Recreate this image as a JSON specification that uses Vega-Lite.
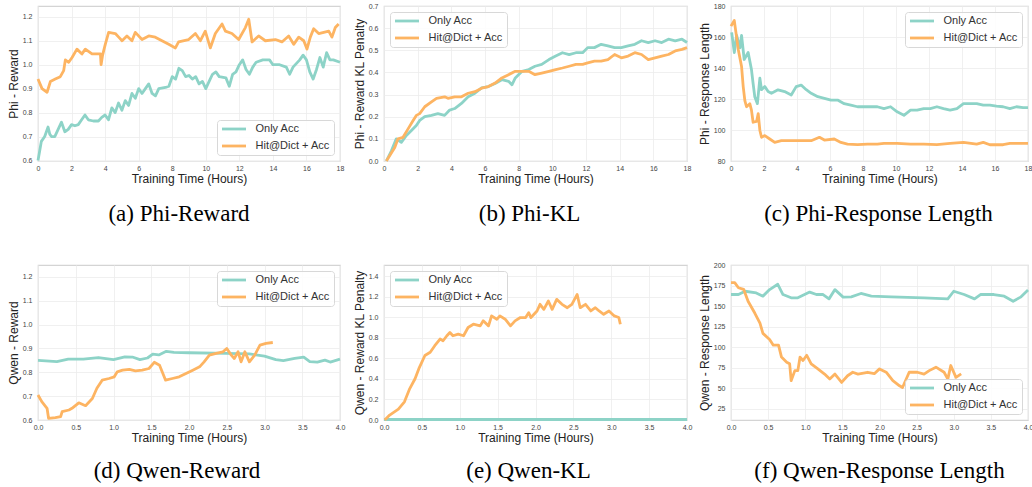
{
"$schema": "https://vega.github.io/schema/vega-lite/v6.json",
"background": "white",
"padding": {"left": 6, "top": 1, "right": 0, "bottom": 2},
"bounds": "flush",
"columns": 3,
"spacing": {"row": 104, "column": 44},
"resolve": {"scale": {"color": "independent"}, "legend": {"color": "independent"}},
"config": {
 "font": "Liberation Sans",
 "view": {"stroke": "#d4d4d4", "strokeWidth": 1.2},
 "axis": {"grid": true, "gridColor": "#ececec", "gridWidth": 0.8, "domain": false, "ticks": false, "labelFontSize": 7, "labelColor": "#444444", "labelFlush": false, "labelOverlap": false, "titleFontSize": 12, "titleFontWeight": "normal", "titleColor": "#222222", "titlePadding": 2, "labelFont": "Liberation Sans", "titleFont": "Liberation Sans"},
 "axisX": {"labelPadding": 3.5},
 "axisY": {"labelPadding": 6},
 "legend": {"labelFontSize": 11, "labelColor": "#333333", "labelFont": "Liberation Sans", "symbolType": "M-1,0H5", "symbolSize": 64, "symbolStrokeWidth": 2.2, "fillColor": "rgba(255,255,255,0.85)", "strokeColor": "#d8d8d8", "cornerRadius": 3, "padding": 3.5, "offset": 6, "rowPadding": 5, "labelOffset": 24},
 "title": {"font": "Liberation Serif", "fontSize": 23, "fontWeight": "normal", "color": "#000000", "offset": 18},
 "line": {"strokeWidth": 2.8, "strokeJoin": "round"}
},
"datasets": {
 "phiReward": [
  {"hours":0,"series":"Only Acc","value":0.60},{"hours":0.1,"series":"Only Acc","value":0.64},{"hours":0.2,"series":"Only Acc","value":0.68},{"hours":0.4,"series":"Only Acc","value":0.70},{"hours":0.6,"series":"Only Acc","value":0.74},{"hours":0.7,"series":"Only Acc","value":0.71},{"hours":0.8,"series":"Only Acc","value":0.70},{"hours":1.0,"series":"Only Acc","value":0.70},{"hours":1.2,"series":"Only Acc","value":0.73},{"hours":1.4,"series":"Only Acc","value":0.76},{"hours":1.5,"series":"Only Acc","value":0.74},{"hours":1.6,"series":"Only Acc","value":0.72},{"hours":1.8,"series":"Only Acc","value":0.73},{"hours":2.0,"series":"Only Acc","value":0.75},{"hours":2.2,"series":"Only Acc","value":0.745},{"hours":2.4,"series":"Only Acc","value":0.75},{"hours":2.6,"series":"Only Acc","value":0.77},{"hours":2.8,"series":"Only Acc","value":0.79},{"hours":3.0,"series":"Only Acc","value":0.77},{"hours":3.3,"series":"Only Acc","value":0.765},{"hours":3.6,"series":"Only Acc","value":0.765},{"hours":3.8,"series":"Only Acc","value":0.78},{"hours":4.0,"series":"Only Acc","value":0.79},{"hours":4.2,"series":"Only Acc","value":0.77},{"hours":4.4,"series":"Only Acc","value":0.82},{"hours":4.6,"series":"Only Acc","value":0.80},{"hours":4.8,"series":"Only Acc","value":0.84},{"hours":5.0,"series":"Only Acc","value":0.81},{"hours":5.2,"series":"Only Acc","value":0.85},{"hours":5.4,"series":"Only Acc","value":0.83},{"hours":5.6,"series":"Only Acc","value":0.88},{"hours":5.8,"series":"Only Acc","value":0.86},{"hours":6.0,"series":"Only Acc","value":0.90},{"hours":6.2,"series":"Only Acc","value":0.88},{"hours":6.4,"series":"Only Acc","value":0.90},{"hours":6.6,"series":"Only Acc","value":0.92},{"hours":6.8,"series":"Only Acc","value":0.88},{"hours":7.0,"series":"Only Acc","value":0.87},{"hours":7.2,"series":"Only Acc","value":0.90},{"hours":7.6,"series":"Only Acc","value":0.905},{"hours":7.8,"series":"Only Acc","value":0.91},{"hours":8.0,"series":"Only Acc","value":0.95},{"hours":8.2,"series":"Only Acc","value":0.94},{"hours":8.4,"series":"Only Acc","value":0.985},{"hours":8.6,"series":"Only Acc","value":0.975},{"hours":8.8,"series":"Only Acc","value":0.95},{"hours":9.0,"series":"Only Acc","value":0.955},{"hours":9.2,"series":"Only Acc","value":0.94},{"hours":9.4,"series":"Only Acc","value":0.95},{"hours":9.6,"series":"Only Acc","value":0.92},{"hours":9.8,"series":"Only Acc","value":0.93},{"hours":10.0,"series":"Only Acc","value":0.90},{"hours":10.2,"series":"Only Acc","value":0.93},{"hours":10.4,"series":"Only Acc","value":0.96},{"hours":10.6,"series":"Only Acc","value":0.97},{"hours":10.8,"series":"Only Acc","value":0.95},{"hours":11.2,"series":"Only Acc","value":0.945},{"hours":11.4,"series":"Only Acc","value":0.91},{"hours":11.6,"series":"Only Acc","value":0.96},{"hours":11.8,"series":"Only Acc","value":0.97},{"hours":12.0,"series":"Only Acc","value":1.00},{"hours":12.2,"series":"Only Acc","value":1.02},{"hours":12.4,"series":"Only Acc","value":0.98},{"hours":12.6,"series":"Only Acc","value":0.96},{"hours":12.8,"series":"Only Acc","value":0.99},{"hours":13.0,"series":"Only Acc","value":1.01},{"hours":13.4,"series":"Only Acc","value":1.02},{"hours":13.8,"series":"Only Acc","value":1.02},{"hours":14.0,"series":"Only Acc","value":1.00},{"hours":14.4,"series":"Only Acc","value":1.00},{"hours":14.8,"series":"Only Acc","value":0.99},{"hours":15.0,"series":"Only Acc","value":0.96},{"hours":15.2,"series":"Only Acc","value":0.99},{"hours":15.6,"series":"Only Acc","value":1.02},{"hours":15.8,"series":"Only Acc","value":1.04},{"hours":16.0,"series":"Only Acc","value":1.02},{"hours":16.2,"series":"Only Acc","value":0.97},{"hours":16.4,"series":"Only Acc","value":0.94},{"hours":16.6,"series":"Only Acc","value":0.98},{"hours":16.8,"series":"Only Acc","value":1.03},{"hours":17.0,"series":"Only Acc","value":0.99},{"hours":17.2,"series":"Only Acc","value":1.05},{"hours":17.4,"series":"Only Acc","value":1.02},{"hours":17.6,"series":"Only Acc","value":1.02},{"hours":18.0,"series":"Only Acc","value":1.01},
  {"hours":0,"series":"Hit@Dict + Acc","value":0.94},{"hours":0.24,"series":"Hit@Dict + Acc","value":0.90},{"hours":0.54,"series":"Hit@Dict + Acc","value":0.885},{"hours":0.74,"series":"Hit@Dict + Acc","value":0.93},{"hours":1.03,"series":"Hit@Dict + Acc","value":0.94},{"hours":1.33,"series":"Hit@Dict + Acc","value":0.95},{"hours":1.53,"series":"Hit@Dict + Acc","value":0.975},{"hours":1.63,"series":"Hit@Dict + Acc","value":1.02},{"hours":1.83,"series":"Hit@Dict + Acc","value":1.01},{"hours":2.03,"series":"Hit@Dict + Acc","value":1.03},{"hours":2.32,"series":"Hit@Dict + Acc","value":1.065},{"hours":2.62,"series":"Hit@Dict + Acc","value":1.045},{"hours":2.82,"series":"Hit@Dict + Acc","value":1.065},{"hours":3.22,"series":"Hit@Dict + Acc","value":1.045},{"hours":3.72,"series":"Hit@Dict + Acc","value":1.045},{"hours":3.76,"series":"Hit@Dict + Acc","value":1.0},{"hours":3.85,"series":"Hit@Dict + Acc","value":1.04},{"hours":4.01,"series":"Hit@Dict + Acc","value":1.085},{"hours":4.21,"series":"Hit@Dict + Acc","value":1.135},{"hours":4.61,"series":"Hit@Dict + Acc","value":1.13},{"hours":4.81,"series":"Hit@Dict + Acc","value":1.115},{"hours":5.01,"series":"Hit@Dict + Acc","value":1.10},{"hours":5.30,"series":"Hit@Dict + Acc","value":1.12},{"hours":5.60,"series":"Hit@Dict + Acc","value":1.10},{"hours":5.80,"series":"Hit@Dict + Acc","value":1.135},{"hours":6.20,"series":"Hit@Dict + Acc","value":1.105},{"hours":6.60,"series":"Hit@Dict + Acc","value":1.12},{"hours":6.99,"series":"Hit@Dict + Acc","value":1.115},{"hours":7.39,"series":"Hit@Dict + Acc","value":1.10},{"hours":7.79,"series":"Hit@Dict + Acc","value":1.085},{"hours":8.19,"series":"Hit@Dict + Acc","value":1.07},{"hours":8.38,"series":"Hit@Dict + Acc","value":1.095},{"hours":8.98,"series":"Hit@Dict + Acc","value":1.105},{"hours":9.38,"series":"Hit@Dict + Acc","value":1.13},{"hours":9.68,"series":"Hit@Dict + Acc","value":1.10},{"hours":9.97,"series":"Hit@Dict + Acc","value":1.14},{"hours":10.27,"series":"Hit@Dict + Acc","value":1.07},{"hours":10.57,"series":"Hit@Dict + Acc","value":1.13},{"hours":10.97,"series":"Hit@Dict + Acc","value":1.17},{"hours":11.17,"series":"Hit@Dict + Acc","value":1.14},{"hours":11.56,"series":"Hit@Dict + Acc","value":1.13},{"hours":11.96,"series":"Hit@Dict + Acc","value":1.105},{"hours":12.36,"series":"Hit@Dict + Acc","value":1.155},{"hours":12.56,"series":"Hit@Dict + Acc","value":1.19},{"hours":12.76,"series":"Hit@Dict + Acc","value":1.095},{"hours":13.15,"series":"Hit@Dict + Acc","value":1.12},{"hours":13.55,"series":"Hit@Dict + Acc","value":1.10},{"hours":14.15,"series":"Hit@Dict + Acc","value":1.105},{"hours":14.54,"series":"Hit@Dict + Acc","value":1.095},{"hours":14.94,"series":"Hit@Dict + Acc","value":1.12},{"hours":15.24,"series":"Hit@Dict + Acc","value":1.085},{"hours":15.54,"series":"Hit@Dict + Acc","value":1.115},{"hours":15.84,"series":"Hit@Dict + Acc","value":1.10},{"hours":16.03,"series":"Hit@Dict + Acc","value":1.065},{"hours":16.23,"series":"Hit@Dict + Acc","value":1.115},{"hours":16.43,"series":"Hit@Dict + Acc","value":1.15},{"hours":16.73,"series":"Hit@Dict + Acc","value":1.13},{"hours":17.03,"series":"Hit@Dict + Acc","value":1.135},{"hours":17.33,"series":"Hit@Dict + Acc","value":1.14},{"hours":17.52,"series":"Hit@Dict + Acc","value":1.115},{"hours":17.72,"series":"Hit@Dict + Acc","value":1.155},{"hours":17.92,"series":"Hit@Dict + Acc","value":1.17}
 ],
 "phiKL": [
  {"hours":0.14,"series":"Only Acc","value":0},{"hours":0.44,"series":"Only Acc","value":0.046},{"hours":0.73,"series":"Only Acc","value":0.10},{"hours":1.03,"series":"Only Acc","value":0.084},{"hours":1.33,"series":"Only Acc","value":0.115},{"hours":1.63,"series":"Only Acc","value":0.138},{"hours":1.92,"series":"Only Acc","value":0.16},{"hours":2.12,"series":"Only Acc","value":0.183},{"hours":2.42,"series":"Only Acc","value":0.20},{"hours":2.82,"series":"Only Acc","value":0.206},{"hours":3.2,"series":"Only Acc","value":0.214},{"hours":3.6,"series":"Only Acc","value":0.206},{"hours":3.9,"series":"Only Acc","value":0.23},{"hours":4.2,"series":"Only Acc","value":0.237},{"hours":4.6,"series":"Only Acc","value":0.26},{"hours":5.0,"series":"Only Acc","value":0.29},{"hours":5.4,"series":"Only Acc","value":0.306},{"hours":5.8,"series":"Only Acc","value":0.33},{"hours":6.2,"series":"Only Acc","value":0.336},{"hours":6.6,"series":"Only Acc","value":0.35},{"hours":7.0,"series":"Only Acc","value":0.367},{"hours":7.4,"series":"Only Acc","value":0.36},{"hours":7.6,"series":"Only Acc","value":0.344},{"hours":7.8,"series":"Only Acc","value":0.375},{"hours":8.2,"series":"Only Acc","value":0.405},{"hours":8.6,"series":"Only Acc","value":0.413},{"hours":8.97,"series":"Only Acc","value":0.428},{"hours":9.37,"series":"Only Acc","value":0.436},{"hours":9.8,"series":"Only Acc","value":0.458},{"hours":10.2,"series":"Only Acc","value":0.474},{"hours":10.6,"series":"Only Acc","value":0.489},{"hours":11.0,"series":"Only Acc","value":0.48},{"hours":11.4,"series":"Only Acc","value":0.489},{"hours":11.8,"series":"Only Acc","value":0.489},{"hours":12.1,"series":"Only Acc","value":0.512},{"hours":12.5,"series":"Only Acc","value":0.512},{"hours":12.9,"series":"Only Acc","value":0.527},{"hours":13.3,"series":"Only Acc","value":0.52},{"hours":13.7,"series":"Only Acc","value":0.512},{"hours":14.1,"series":"Only Acc","value":0.512},{"hours":14.5,"series":"Only Acc","value":0.52},{"hours":14.9,"series":"Only Acc","value":0.527},{"hours":15.3,"series":"Only Acc","value":0.543},{"hours":15.7,"series":"Only Acc","value":0.535},{"hours":16.1,"series":"Only Acc","value":0.543},{"hours":16.5,"series":"Only Acc","value":0.535},{"hours":16.9,"series":"Only Acc","value":0.55},{"hours":17.3,"series":"Only Acc","value":0.543},{"hours":17.7,"series":"Only Acc","value":0.55},{"hours":18.0,"series":"Only Acc","value":0.535},
  {"hours":0.14,"series":"Hit@Dict + Acc","value":0},{"hours":0.64,"series":"Hit@Dict + Acc","value":0.061},{"hours":0.83,"series":"Hit@Dict + Acc","value":0.10},{"hours":1.13,"series":"Hit@Dict + Acc","value":0.107},{"hours":1.43,"series":"Hit@Dict + Acc","value":0.145},{"hours":1.73,"series":"Hit@Dict + Acc","value":0.183},{"hours":1.92,"series":"Hit@Dict + Acc","value":0.206},{"hours":2.12,"series":"Hit@Dict + Acc","value":0.214},{"hours":2.42,"series":"Hit@Dict + Acc","value":0.245},{"hours":2.82,"series":"Hit@Dict + Acc","value":0.267},{"hours":3.12,"series":"Hit@Dict + Acc","value":0.283},{"hours":3.6,"series":"Hit@Dict + Acc","value":0.29},{"hours":3.8,"series":"Hit@Dict + Acc","value":0.283},{"hours":4.2,"series":"Hit@Dict + Acc","value":0.29},{"hours":4.6,"series":"Hit@Dict + Acc","value":0.29},{"hours":5.0,"series":"Hit@Dict + Acc","value":0.306},{"hours":5.4,"series":"Hit@Dict + Acc","value":0.313},{"hours":5.8,"series":"Hit@Dict + Acc","value":0.329},{"hours":6.2,"series":"Hit@Dict + Acc","value":0.336},{"hours":6.6,"series":"Hit@Dict + Acc","value":0.352},{"hours":7.0,"series":"Hit@Dict + Acc","value":0.375},{"hours":7.4,"series":"Hit@Dict + Acc","value":0.39},{"hours":7.8,"series":"Hit@Dict + Acc","value":0.405},{"hours":8.2,"series":"Hit@Dict + Acc","value":0.405},{"hours":8.6,"series":"Hit@Dict + Acc","value":0.405},{"hours":8.97,"series":"Hit@Dict + Acc","value":0.39},{"hours":9.37,"series":"Hit@Dict + Acc","value":0.397},{"hours":9.8,"series":"Hit@Dict + Acc","value":0.405},{"hours":10.2,"series":"Hit@Dict + Acc","value":0.413},{"hours":10.6,"series":"Hit@Dict + Acc","value":0.42},{"hours":11.0,"series":"Hit@Dict + Acc","value":0.428},{"hours":11.4,"series":"Hit@Dict + Acc","value":0.436},{"hours":11.8,"series":"Hit@Dict + Acc","value":0.436},{"hours":12.1,"series":"Hit@Dict + Acc","value":0.443},{"hours":12.5,"series":"Hit@Dict + Acc","value":0.451},{"hours":12.9,"series":"Hit@Dict + Acc","value":0.451},{"hours":13.3,"series":"Hit@Dict + Acc","value":0.458},{"hours":13.7,"series":"Hit@Dict + Acc","value":0.481},{"hours":14.1,"series":"Hit@Dict + Acc","value":0.466},{"hours":14.5,"series":"Hit@Dict + Acc","value":0.474},{"hours":14.9,"series":"Hit@Dict + Acc","value":0.489},{"hours":15.3,"series":"Hit@Dict + Acc","value":0.481},{"hours":15.7,"series":"Hit@Dict + Acc","value":0.458},{"hours":16.1,"series":"Hit@Dict + Acc","value":0.466},{"hours":16.5,"series":"Hit@Dict + Acc","value":0.474},{"hours":16.9,"series":"Hit@Dict + Acc","value":0.481},{"hours":17.3,"series":"Hit@Dict + Acc","value":0.497},{"hours":17.7,"series":"Hit@Dict + Acc","value":0.504},{"hours":18.0,"series":"Hit@Dict + Acc","value":0.512}
 ],
 "phiLen": [
  {"hours":0.04,"series":"Only Acc","value":163},{"hours":0.2,"series":"Only Acc","value":150},{"hours":0.34,"series":"Only Acc","value":161},{"hours":0.54,"series":"Only Acc","value":153},{"hours":0.64,"series":"Only Acc","value":161},{"hours":0.8,"series":"Only Acc","value":145.5},{"hours":1.04,"series":"Only Acc","value":150},{"hours":1.24,"series":"Only Acc","value":139},{"hours":1.34,"series":"Only Acc","value":130},{"hours":1.44,"series":"Only Acc","value":121.5},{"hours":1.6,"series":"Only Acc","value":117},{"hours":1.75,"series":"Only Acc","value":133.5},{"hours":1.85,"series":"Only Acc","value":126},{"hours":2.05,"series":"Only Acc","value":128},{"hours":2.25,"series":"Only Acc","value":124.8},{"hours":2.45,"series":"Only Acc","value":123.7},{"hours":2.85,"series":"Only Acc","value":125.9},{"hours":3.25,"series":"Only Acc","value":124.8},{"hours":3.65,"series":"Only Acc","value":122.6},{"hours":3.95,"series":"Only Acc","value":128},{"hours":4.25,"series":"Only Acc","value":129},{"hours":4.56,"series":"Only Acc","value":126},{"hours":4.86,"series":"Only Acc","value":123.7},{"hours":5.26,"series":"Only Acc","value":121.5},{"hours":5.66,"series":"Only Acc","value":120.4},{"hours":6.06,"series":"Only Acc","value":119.3},{"hours":6.46,"series":"Only Acc","value":119.3},{"hours":6.86,"series":"Only Acc","value":117},{"hours":7.26,"series":"Only Acc","value":116},{"hours":7.67,"series":"Only Acc","value":115},{"hours":8.07,"series":"Only Acc","value":115},{"hours":8.47,"series":"Only Acc","value":115},{"hours":8.87,"series":"Only Acc","value":115},{"hours":9.27,"series":"Only Acc","value":113.8},{"hours":9.67,"series":"Only Acc","value":115},{"hours":10.07,"series":"Only Acc","value":111.7},{"hours":10.48,"series":"Only Acc","value":109.5},{"hours":10.88,"series":"Only Acc","value":112.8},{"hours":11.28,"series":"Only Acc","value":112.8},{"hours":11.68,"series":"Only Acc","value":113.8},{"hours":12.08,"series":"Only Acc","value":113.8},{"hours":12.48,"series":"Only Acc","value":115},{"hours":12.88,"series":"Only Acc","value":113.8},{"hours":13.28,"series":"Only Acc","value":112.8},{"hours":13.69,"series":"Only Acc","value":113.8},{"hours":14.09,"series":"Only Acc","value":117},{"hours":14.49,"series":"Only Acc","value":117},{"hours":14.89,"series":"Only Acc","value":117},{"hours":15.29,"series":"Only Acc","value":116},{"hours":15.69,"series":"Only Acc","value":116},{"hours":16.09,"series":"Only Acc","value":115.4},{"hours":16.49,"series":"Only Acc","value":115},{"hours":16.9,"series":"Only Acc","value":113.8},{"hours":17.3,"series":"Only Acc","value":115},{"hours":17.7,"series":"Only Acc","value":114.5},{"hours":18.0,"series":"Only Acc","value":114.5},
  {"hours":0,"series":"Hit@Dict + Acc","value":167},{"hours":0.2,"series":"Hit@Dict + Acc","value":170.6},{"hours":0.44,"series":"Hit@Dict + Acc","value":152},{"hours":0.64,"series":"Hit@Dict + Acc","value":141},{"hours":0.74,"series":"Hit@Dict + Acc","value":128},{"hours":0.84,"series":"Hit@Dict + Acc","value":119},{"hours":0.94,"series":"Hit@Dict + Acc","value":115},{"hours":1.14,"series":"Hit@Dict + Acc","value":117},{"hours":1.24,"series":"Hit@Dict + Acc","value":112.8},{"hours":1.34,"series":"Hit@Dict + Acc","value":105},{"hours":1.55,"series":"Hit@Dict + Acc","value":105.5},{"hours":1.65,"series":"Hit@Dict + Acc","value":110.6},{"hours":1.75,"series":"Hit@Dict + Acc","value":99.7},{"hours":1.85,"series":"Hit@Dict + Acc","value":95.3},{"hours":2.05,"series":"Hit@Dict + Acc","value":96.4},{"hours":2.35,"series":"Hit@Dict + Acc","value":94.2},{"hours":2.65,"series":"Hit@Dict + Acc","value":92},{"hours":3.05,"series":"Hit@Dict + Acc","value":93.1},{"hours":3.65,"series":"Hit@Dict + Acc","value":93.1},{"hours":4.25,"series":"Hit@Dict + Acc","value":93.1},{"hours":4.86,"series":"Hit@Dict + Acc","value":93.1},{"hours":5.36,"series":"Hit@Dict + Acc","value":95.3},{"hours":5.66,"series":"Hit@Dict + Acc","value":93.5},{"hours":6.26,"series":"Hit@Dict + Acc","value":94.2},{"hours":6.66,"series":"Hit@Dict + Acc","value":92},{"hours":7.06,"series":"Hit@Dict + Acc","value":90.9},{"hours":7.67,"series":"Hit@Dict + Acc","value":90.5},{"hours":8.27,"series":"Hit@Dict + Acc","value":90.9},{"hours":8.87,"series":"Hit@Dict + Acc","value":90.9},{"hours":9.27,"series":"Hit@Dict + Acc","value":91.4},{"hours":10.07,"series":"Hit@Dict + Acc","value":91.4},{"hours":10.88,"series":"Hit@Dict + Acc","value":90.9},{"hours":11.68,"series":"Hit@Dict + Acc","value":90.9},{"hours":12.48,"series":"Hit@Dict + Acc","value":90.5},{"hours":13.28,"series":"Hit@Dict + Acc","value":91.4},{"hours":14.09,"series":"Hit@Dict + Acc","value":92},{"hours":14.89,"series":"Hit@Dict + Acc","value":90.9},{"hours":15.29,"series":"Hit@Dict + Acc","value":92},{"hours":15.69,"series":"Hit@Dict + Acc","value":90.5},{"hours":16.49,"series":"Hit@Dict + Acc","value":90.5},{"hours":16.9,"series":"Hit@Dict + Acc","value":91.4},{"hours":17.7,"series":"Hit@Dict + Acc","value":91.4},{"hours":18.0,"series":"Hit@Dict + Acc","value":91.4}
 ],
 "qwenReward": [
  {"hours":0,"series":"Only Acc","value":0.85},{"hours":0.25,"series":"Only Acc","value":0.845},{"hours":0.4,"series":"Only Acc","value":0.855},{"hours":0.6,"series":"Only Acc","value":0.855},{"hours":0.8,"series":"Only Acc","value":0.862},{"hours":1.0,"series":"Only Acc","value":0.853},{"hours":1.15,"series":"Only Acc","value":0.865},{"hours":1.25,"series":"Only Acc","value":0.864},{"hours":1.35,"series":"Only Acc","value":0.853},{"hours":1.45,"series":"Only Acc","value":0.86},{"hours":1.52,"series":"Only Acc","value":0.876},{"hours":1.6,"series":"Only Acc","value":0.873},{"hours":1.7,"series":"Only Acc","value":0.888},{"hours":1.8,"series":"Only Acc","value":0.884},{"hours":2.0,"series":"Only Acc","value":0.882},{"hours":2.5,"series":"Only Acc","value":0.879},{"hours":2.8,"series":"Only Acc","value":0.877},{"hours":3.0,"series":"Only Acc","value":0.868},{"hours":3.15,"series":"Only Acc","value":0.853},{"hours":3.25,"series":"Only Acc","value":0.849},{"hours":3.4,"series":"Only Acc","value":0.858},{"hours":3.52,"series":"Only Acc","value":0.864},{"hours":3.6,"series":"Only Acc","value":0.845},{"hours":3.7,"series":"Only Acc","value":0.843},{"hours":3.8,"series":"Only Acc","value":0.851},{"hours":3.87,"series":"Only Acc","value":0.843},{"hours":4.0,"series":"Only Acc","value":0.855},
  {"hours":0,"series":"Hit@Dict + Acc","value":0.705},{"hours":0.05,"series":"Hit@Dict + Acc","value":0.677},{"hours":0.12,"series":"Hit@Dict + Acc","value":0.649},{"hours":0.14,"series":"Hit@Dict + Acc","value":0.607},{"hours":0.23,"series":"Hit@Dict + Acc","value":0.61},{"hours":0.3,"series":"Hit@Dict + Acc","value":0.614},{"hours":0.32,"series":"Hit@Dict + Acc","value":0.635},{"hours":0.41,"series":"Hit@Dict + Acc","value":0.642},{"hours":0.45,"series":"Hit@Dict + Acc","value":0.649},{"hours":0.54,"series":"Hit@Dict + Acc","value":0.672},{"hours":0.63,"series":"Hit@Dict + Acc","value":0.66},{"hours":0.72,"series":"Hit@Dict + Acc","value":0.69},{"hours":0.78,"series":"Hit@Dict + Acc","value":0.733},{"hours":0.85,"series":"Hit@Dict + Acc","value":0.767},{"hours":0.94,"series":"Hit@Dict + Acc","value":0.774},{"hours":1.01,"series":"Hit@Dict + Acc","value":0.781},{"hours":1.05,"series":"Hit@Dict + Acc","value":0.802},{"hours":1.12,"series":"Hit@Dict + Acc","value":0.809},{"hours":1.21,"series":"Hit@Dict + Acc","value":0.812},{"hours":1.29,"series":"Hit@Dict + Acc","value":0.806},{"hours":1.38,"series":"Hit@Dict + Acc","value":0.809},{"hours":1.47,"series":"Hit@Dict + Acc","value":0.816},{"hours":1.54,"series":"Hit@Dict + Acc","value":0.842},{"hours":1.61,"series":"Hit@Dict + Acc","value":0.83},{"hours":1.69,"series":"Hit@Dict + Acc","value":0.767},{"hours":1.78,"series":"Hit@Dict + Acc","value":0.774},{"hours":1.87,"series":"Hit@Dict + Acc","value":0.781},{"hours":1.96,"series":"Hit@Dict + Acc","value":0.795},{"hours":2.05,"series":"Hit@Dict + Acc","value":0.809},{"hours":2.14,"series":"Hit@Dict + Acc","value":0.823},{"hours":2.2,"series":"Hit@Dict + Acc","value":0.844},{"hours":2.27,"series":"Hit@Dict + Acc","value":0.872},{"hours":2.36,"series":"Hit@Dict + Acc","value":0.879},{"hours":2.45,"series":"Hit@Dict + Acc","value":0.886},{"hours":2.5,"series":"Hit@Dict + Acc","value":0.9},{"hours":2.56,"series":"Hit@Dict + Acc","value":0.872},{"hours":2.6,"series":"Hit@Dict + Acc","value":0.858},{"hours":2.65,"series":"Hit@Dict + Acc","value":0.886},{"hours":2.69,"series":"Hit@Dict + Acc","value":0.844},{"hours":2.74,"series":"Hit@Dict + Acc","value":0.886},{"hours":2.8,"series":"Hit@Dict + Acc","value":0.844},{"hours":2.87,"series":"Hit@Dict + Acc","value":0.872},{"hours":2.94,"series":"Hit@Dict + Acc","value":0.914},{"hours":3.02,"series":"Hit@Dict + Acc","value":0.921},{"hours":3.11,"series":"Hit@Dict + Acc","value":0.925}
 ],
 "qwenKL": [
  {"hours":0,"series":"Only Acc","value":0.005},{"hours":1,"series":"Only Acc","value":0.005},{"hours":2,"series":"Only Acc","value":0.005},{"hours":3,"series":"Only Acc","value":0.005},{"hours":4,"series":"Only Acc","value":0.005},
  {"hours":0.01,"series":"Hit@Dict + Acc","value":0},{"hours":0.075,"series":"Hit@Dict + Acc","value":0.048},{"hours":0.19,"series":"Hit@Dict + Acc","value":0.106},{"hours":0.27,"series":"Hit@Dict + Acc","value":0.177},{"hours":0.34,"series":"Hit@Dict + Acc","value":0.306},{"hours":0.41,"series":"Hit@Dict + Acc","value":0.402},{"hours":0.46,"series":"Hit@Dict + Acc","value":0.5},{"hours":0.5,"series":"Hit@Dict + Acc","value":0.563},{"hours":0.54,"series":"Hit@Dict + Acc","value":0.628},{"hours":0.61,"series":"Hit@Dict + Acc","value":0.66},{"hours":0.67,"series":"Hit@Dict + Acc","value":0.724},{"hours":0.74,"series":"Hit@Dict + Acc","value":0.789},{"hours":0.78,"series":"Hit@Dict + Acc","value":0.772},{"hours":0.83,"series":"Hit@Dict + Acc","value":0.821},{"hours":0.87,"series":"Hit@Dict + Acc","value":0.853},{"hours":0.91,"series":"Hit@Dict + Acc","value":0.821},{"hours":0.98,"series":"Hit@Dict + Acc","value":0.837},{"hours":1.05,"series":"Hit@Dict + Acc","value":0.821},{"hours":1.11,"series":"Hit@Dict + Acc","value":0.901},{"hours":1.18,"series":"Hit@Dict + Acc","value":0.933},{"hours":1.27,"series":"Hit@Dict + Acc","value":0.917},{"hours":1.31,"series":"Hit@Dict + Acc","value":0.966},{"hours":1.38,"series":"Hit@Dict + Acc","value":0.917},{"hours":1.42,"series":"Hit@Dict + Acc","value":1.014},{"hours":1.49,"series":"Hit@Dict + Acc","value":0.982},{"hours":1.53,"series":"Hit@Dict + Acc","value":1.014},{"hours":1.6,"series":"Hit@Dict + Acc","value":0.982},{"hours":1.67,"series":"Hit@Dict + Acc","value":0.917},{"hours":1.73,"series":"Hit@Dict + Acc","value":0.966},{"hours":1.8,"series":"Hit@Dict + Acc","value":0.998},{"hours":1.87,"series":"Hit@Dict + Acc","value":0.998},{"hours":1.91,"series":"Hit@Dict + Acc","value":1.046},{"hours":1.94,"series":"Hit@Dict + Acc","value":0.998},{"hours":2.02,"series":"Hit@Dict + Acc","value":1.062},{"hours":2.06,"series":"Hit@Dict + Acc","value":1.127},{"hours":2.11,"series":"Hit@Dict + Acc","value":1.078},{"hours":2.17,"series":"Hit@Dict + Acc","value":1.159},{"hours":2.22,"series":"Hit@Dict + Acc","value":1.078},{"hours":2.28,"series":"Hit@Dict + Acc","value":1.175},{"hours":2.35,"series":"Hit@Dict + Acc","value":1.127},{"hours":2.42,"series":"Hit@Dict + Acc","value":1.094},{"hours":2.48,"series":"Hit@Dict + Acc","value":1.127},{"hours":2.55,"series":"Hit@Dict + Acc","value":1.223},{"hours":2.59,"series":"Hit@Dict + Acc","value":1.094},{"hours":2.66,"series":"Hit@Dict + Acc","value":1.127},{"hours":2.73,"series":"Hit@Dict + Acc","value":1.062},{"hours":2.79,"series":"Hit@Dict + Acc","value":1.094},{"hours":2.84,"series":"Hit@Dict + Acc","value":1.062},{"hours":2.9,"series":"Hit@Dict + Acc","value":1.03},{"hours":2.97,"series":"Hit@Dict + Acc","value":1.062},{"hours":3.04,"series":"Hit@Dict + Acc","value":1.014},{"hours":3.1,"series":"Hit@Dict + Acc","value":0.998},{"hours":3.12,"series":"Hit@Dict + Acc","value":0.933}
 ],
 "qwenLen": [
  {"hours":0,"series":"Only Acc","value":164},{"hours":0.1,"series":"Only Acc","value":164},{"hours":0.19,"series":"Only Acc","value":168},{"hours":0.34,"series":"Only Acc","value":166},{"hours":0.43,"series":"Only Acc","value":162},{"hours":0.52,"series":"Only Acc","value":170},{"hours":0.63,"series":"Only Acc","value":176.5},{"hours":0.7,"series":"Only Acc","value":164},{"hours":0.81,"series":"Only Acc","value":160},{"hours":0.9,"series":"Only Acc","value":160},{"hours":1.06,"series":"Only Acc","value":167},{"hours":1.15,"series":"Only Acc","value":164},{"hours":1.24,"series":"Only Acc","value":164},{"hours":1.32,"series":"Only Acc","value":158.7},{"hours":1.4,"series":"Only Acc","value":170},{"hours":1.51,"series":"Only Acc","value":160.8},{"hours":1.62,"series":"Only Acc","value":161.2},{"hours":1.75,"series":"Only Acc","value":165.3},{"hours":1.89,"series":"Only Acc","value":162},{"hours":2.16,"series":"Only Acc","value":161.2},{"hours":2.6,"series":"Only Acc","value":160},{"hours":2.92,"series":"Only Acc","value":158.7},{"hours":3.0,"series":"Only Acc","value":168},{"hours":3.14,"series":"Only Acc","value":164},{"hours":3.28,"series":"Only Acc","value":158.7},{"hours":3.36,"series":"Only Acc","value":164},{"hours":3.54,"series":"Only Acc","value":164},{"hours":3.68,"series":"Only Acc","value":162},{"hours":3.8,"series":"Only Acc","value":155.8},{"hours":3.9,"series":"Only Acc","value":160.8},{"hours":4.0,"series":"Only Acc","value":169.5},
  {"hours":0,"series":"Hit@Dict + Acc","value":178.5},{"hours":0.05,"series":"Hit@Dict + Acc","value":178.5},{"hours":0.1,"series":"Hit@Dict + Acc","value":172.3},{"hours":0.17,"series":"Hit@Dict + Acc","value":170.3},{"hours":0.23,"series":"Hit@Dict + Acc","value":155.8},{"hours":0.32,"series":"Hit@Dict + Acc","value":141.4},{"hours":0.39,"series":"Hit@Dict + Acc","value":129},{"hours":0.43,"series":"Hit@Dict + Acc","value":116.6},{"hours":0.52,"series":"Hit@Dict + Acc","value":109.2},{"hours":0.57,"series":"Hit@Dict + Acc","value":102.2},{"hours":0.64,"series":"Hit@Dict + Acc","value":102.2},{"hours":0.68,"series":"Hit@Dict + Acc","value":87.7},{"hours":0.75,"series":"Hit@Dict + Acc","value":81.5},{"hours":0.79,"series":"Hit@Dict + Acc","value":79.5},{"hours":0.81,"series":"Hit@Dict + Acc","value":58.9},{"hours":0.86,"series":"Hit@Dict + Acc","value":71.2},{"hours":0.9,"series":"Hit@Dict + Acc","value":71.2},{"hours":0.93,"series":"Hit@Dict + Acc","value":87.7},{"hours":0.97,"series":"Hit@Dict + Acc","value":83.6},{"hours":1.02,"series":"Hit@Dict + Acc","value":89.9},{"hours":1.08,"series":"Hit@Dict + Acc","value":79.5},{"hours":1.17,"series":"Hit@Dict + Acc","value":73.3},{"hours":1.26,"series":"Hit@Dict + Acc","value":67},{"hours":1.33,"series":"Hit@Dict + Acc","value":60.9},{"hours":1.4,"series":"Hit@Dict + Acc","value":67},{"hours":1.49,"series":"Hit@Dict + Acc","value":56.8},{"hours":1.57,"series":"Hit@Dict + Acc","value":65},{"hours":1.64,"series":"Hit@Dict + Acc","value":69.2},{"hours":1.71,"series":"Hit@Dict + Acc","value":67},{"hours":1.84,"series":"Hit@Dict + Acc","value":69.2},{"hours":1.93,"series":"Hit@Dict + Acc","value":67.5},{"hours":2.0,"series":"Hit@Dict + Acc","value":73.3},{"hours":2.09,"series":"Hit@Dict + Acc","value":69.3},{"hours":2.18,"series":"Hit@Dict + Acc","value":58.9},{"hours":2.27,"series":"Hit@Dict + Acc","value":52.7},{"hours":2.31,"series":"Hit@Dict + Acc","value":50.6},{"hours":2.4,"series":"Hit@Dict + Acc","value":69.2},{"hours":2.51,"series":"Hit@Dict + Acc","value":69.2},{"hours":2.6,"series":"Hit@Dict + Acc","value":67},{"hours":2.67,"series":"Hit@Dict + Acc","value":71.2},{"hours":2.76,"series":"Hit@Dict + Acc","value":75.4},{"hours":2.87,"series":"Hit@Dict + Acc","value":69.2},{"hours":2.92,"series":"Hit@Dict + Acc","value":60.9},{"hours":2.96,"series":"Hit@Dict + Acc","value":77.4},{"hours":3.03,"series":"Hit@Dict + Acc","value":63},{"hours":3.1,"series":"Hit@Dict + Acc","value":67.2}
 ]
},
"concat": [
 {"width": 302, "height": 155, "data": {"name": "phiReward"}, "mark": {"type": "line"},
  "title": {"text": "(a) Phi-Reward", "orient": "bottom", "dx": -10},
  "encoding": {
   "x": {"field": "hours", "type": "quantitative", "scale": {"domain": [0, 18], "nice": false}, "axis": {"values": [0,2,4,6,8,10,12,14,16,18], "title": "Training Time (Hours)"}},
   "y": {"field": "value", "type": "quantitative", "scale": {"domain": [0.598, 1.245], "nice": false, "zero": false}, "axis": {"values": [0.6,0.7,0.8,0.9,1.0,1.1,1.2], "format": ".1f", "title": "Phi - Reward"}},
   "color": {"field": "series", "type": "nominal", "sort": null, "scale": {"domain": ["Only Acc", "Hit@Dict + Acc"], "range": ["#8dd3c7", "#fdb462"]}, "legend": {"orient": "bottom-right", "title": null}}
  }},
 {"width": 303, "height": 155, "data": {"name": "phiKL"}, "mark": {"type": "line"},
  "title": {"text": "(b) Phi-KL", "orient": "bottom", "dx": -6},
  "encoding": {
   "x": {"field": "hours", "type": "quantitative", "scale": {"domain": [0, 18], "nice": false}, "axis": {"values": [0,2,4,6,8,10,12,14,16,18], "title": "Training Time (Hours)"}},
   "y": {"field": "value", "type": "quantitative", "scale": {"domain": [0, 0.7], "nice": false}, "axis": {"values": [0,0.1,0.2,0.3,0.4,0.5,0.6,0.7], "format": ".1f", "title": "Phi - Reward KL Penalty"}},
   "color": {"field": "series", "type": "nominal", "sort": null, "scale": {"domain": ["Only Acc", "Hit@Dict + Acc"], "range": ["#8dd3c7", "#fdb462"]}, "legend": {"orient": "top-left", "title": null}}
  }},
 {"width": 297, "height": 155, "data": {"name": "phiLen"}, "mark": {"type": "line"},
  "title": {"text": "(c) Phi-Response Length", "orient": "bottom", "dx": -1},
  "encoding": {
   "x": {"field": "hours", "type": "quantitative", "scale": {"domain": [0, 18], "nice": false}, "axis": {"values": [0,2,4,6,8,10,12,14,16,18], "title": "Training Time (Hours)"}},
   "y": {"field": "value", "type": "quantitative", "scale": {"domain": [80, 180], "nice": false, "zero": false}, "axis": {"values": [80,100,120,140,160,180], "format": "d", "title": "Phi - Response Length"}},
   "color": {"field": "series", "type": "nominal", "sort": null, "scale": {"domain": ["Only Acc", "Hit@Dict + Acc"], "range": ["#8dd3c7", "#fdb462"]}, "legend": {"orient": "top-right", "title": null}}
  }},
 {"width": 302, "height": 155, "data": {"name": "qwenReward"}, "mark": {"type": "line"},
  "title": {"text": "(d) Qwen-Reward", "orient": "bottom", "dx": -12, "offset": 16},
  "encoding": {
   "x": {"field": "hours", "type": "quantitative", "scale": {"domain": [0, 4], "nice": false}, "axis": {"values": [0,0.5,1,1.5,2,2.5,3,3.5,4], "format": ".1f", "title": "Training Time (Hours)"}},
   "y": {"field": "value", "type": "quantitative", "scale": {"domain": [0.6, 1.25], "nice": false, "zero": false}, "axis": {"values": [0.6,0.7,0.8,0.9,1.0,1.1,1.2], "format": ".1f", "title": "Qwen - Reward"}},
   "color": {"field": "series", "type": "nominal", "sort": null, "scale": {"domain": ["Only Acc", "Hit@Dict + Acc"], "range": ["#8dd3c7", "#fdb462"]}, "legend": {"orient": "top-right", "title": null}}
  }},
 {"width": 303, "height": 155, "data": {"name": "qwenKL"}, "mark": {"type": "line"},
  "title": {"text": "(e) Qwen-KL", "orient": "bottom", "dx": -7, "offset": 16},
  "encoding": {
   "x": {"field": "hours", "type": "quantitative", "scale": {"domain": [0, 4], "nice": false}, "axis": {"values": [0,0.5,1,1.5,2,2.5,3,3.5,4], "format": ".1f", "title": "Training Time (Hours)"}},
   "y": {"field": "value", "type": "quantitative", "scale": {"domain": [0, 1.51], "nice": false}, "axis": {"values": [0,0.2,0.4,0.6,0.8,1.0,1.2,1.4], "format": ".1f", "title": "Qwen - Reward KL Penalty"}},
   "color": {"field": "series", "type": "nominal", "sort": null, "scale": {"domain": ["Only Acc", "Hit@Dict + Acc"], "range": ["#8dd3c7", "#fdb462"]}, "legend": {"orient": "top-left", "title": null}}
  }},
 {"width": 297, "height": 155, "data": {"name": "qwenLen"}, "mark": {"type": "line"},
  "title": {"text": "(f) Qwen-Response Length", "orient": "bottom", "dx": 0, "offset": 16},
  "encoding": {
   "x": {"field": "hours", "type": "quantitative", "scale": {"domain": [0, 4], "nice": false}, "axis": {"values": [0,0.5,1,1.5,2,2.5,3,3.5,4], "format": ".1f", "title": "Training Time (Hours)"}},
   "y": {"field": "value", "type": "quantitative", "scale": {"domain": [11, 200], "nice": false, "zero": false}, "axis": {"values": [25,50,75,100,125,150,175,200], "format": "d", "title": "Qwen - Response Length"}},
   "color": {"field": "series", "type": "nominal", "sort": null, "scale": {"domain": ["Only Acc", "Hit@Dict + Acc"], "range": ["#8dd3c7", "#fdb462"]}, "legend": {"orient": "bottom-right", "title": null}}
  }}
]
}
